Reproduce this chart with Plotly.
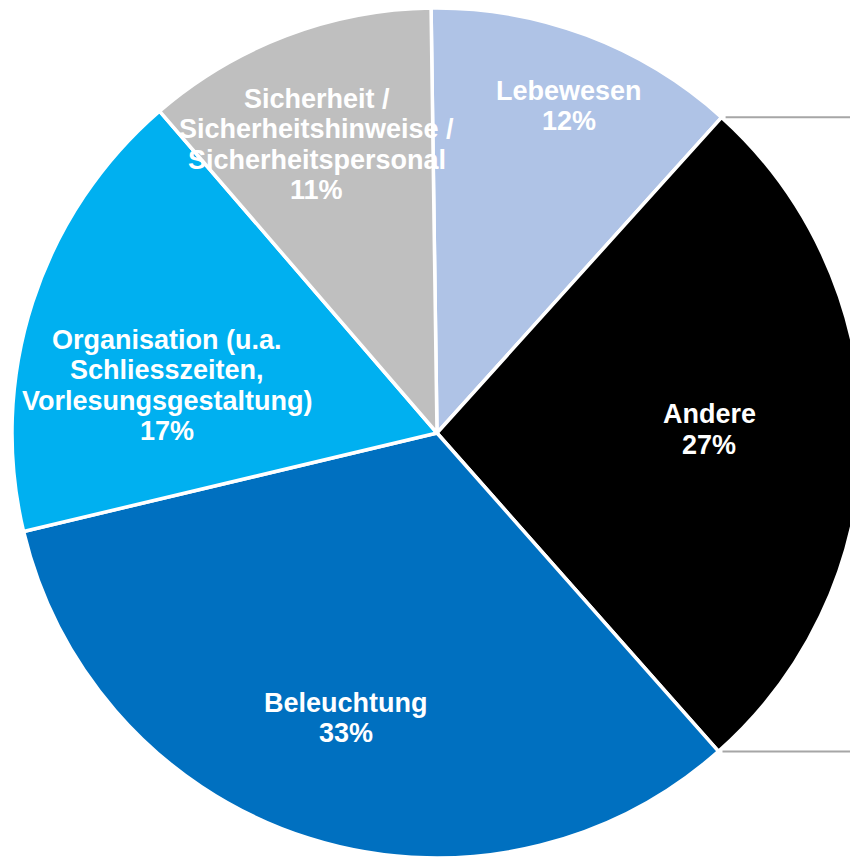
import math
import plotly.graph_objects as go

# ---- data ----
categories = [
    "Lebewesen",
    "Andere",
    "Beleuchtung",
    "Organisation (u.a. Schliesszeiten, Vorlesungsgestaltung)",
    "Sicherheit / Sicherheitshinweise / Sicherheitspersonal",
]
label_lines = [
    ["Lebewesen"],
    ["Andere"],
    ["Beleuchtung"],
    ["Organisation (u.a.", "Schliesszeiten,", "Vorlesungsgestaltung)"],
    ["Sicherheit /", "Sicherheitshinweise /", "Sicherheitspersonal"],
]
values = [11.9, 26.8, 32.8, 17.4, 11.1]

# ---- style ----
colors = ["#AFC3E6", "#000000", "#0070C0", "#00B0F0", "#BFBFBF"]
label_r_frac = [0.833, 0.644, 0.705, 0.644, 0.736]
label_dtheta = [1.5, -1.0, 0.0, -7.9, -1.7]
rotation = -0.8

FW, FH = 864, 860
cx, cy, R = 437.0, 433.0, 425.0
font_size = 27
line_pitch = 30.5

fig = go.Figure(
    go.Pie(
        labels=categories,
        values=values,
        sort=False,
        direction="clockwise",
        rotation=rotation,
        marker=dict(colors=colors, line=dict(color="white", width=3.5)),
        textinfo="none",
        hoverinfo="label+percent",
        showlegend=False,
        domain=dict(
            x=[(cx - R) / FW, (cx + R) / FW],
            y=[1 - (cy + R) / FH, 1 - (cy - R) / FH],
        ),
    )
)

total = sum(values)
annotations = []
shapes = []
cum = 0.0
bounds = []
for i, v in enumerate(values):
    a0 = rotation + cum / total * 360
    cum += v
    a1 = rotation + cum / total * 360
    bounds.append((a0, a1))
    mid = (a0 + a1) / 2 + label_dtheta[i]
    r = label_r_frac[i] * 424.0
    px = 436.0 + r * math.sin(math.radians(mid))
    py = cy - r * math.cos(math.radians(mid))
    pct = round(v / total * 100)
    lines = label_lines[i] + [f"{pct}%"]
    n = len(lines)
    for k, t in enumerate(lines):
        ly = py + (k - (n - 1) / 2) * line_pitch
        annotations.append(
            dict(
                x=px / FW,
                y=1 - ly / FH,
                xref="paper",
                yref="paper",
                text=t,
                showarrow=False,
                xanchor="center",
                yanchor="middle",
                font=dict(family="Liberation Sans, Arial", size=font_size, color="white", weight="bold"),
            )
        )

# connector lines of the exploded "Andere" slice
ia = categories.index("Andere")
for ang in bounds[ia]:
    px = cx + R * math.sin(math.radians(ang))
    py = cy - R * math.cos(math.radians(ang))
    shapes.append(
        dict(
            type="line",
            xref="paper",
            yref="paper",
            x0=(px + 4) / FW,
            x1=1.0,
            y0=1 - py / FH,
            y1=1 - py / FH,
            line=dict(color="#A6A6A6", width=2),
        )
    )

fig.update_layout(
    width=FW,
    height=FH,
    margin=dict(l=0, r=0, t=0, b=0),
    paper_bgcolor="white",
    plot_bgcolor="white",
    annotations=annotations,
    shapes=shapes,
)

fig.write_html(
    "out.html",
    config={"displayModeBar": False},
    post_script="document.body.style.margin='0';document.body.style.overflow='hidden';",
)
